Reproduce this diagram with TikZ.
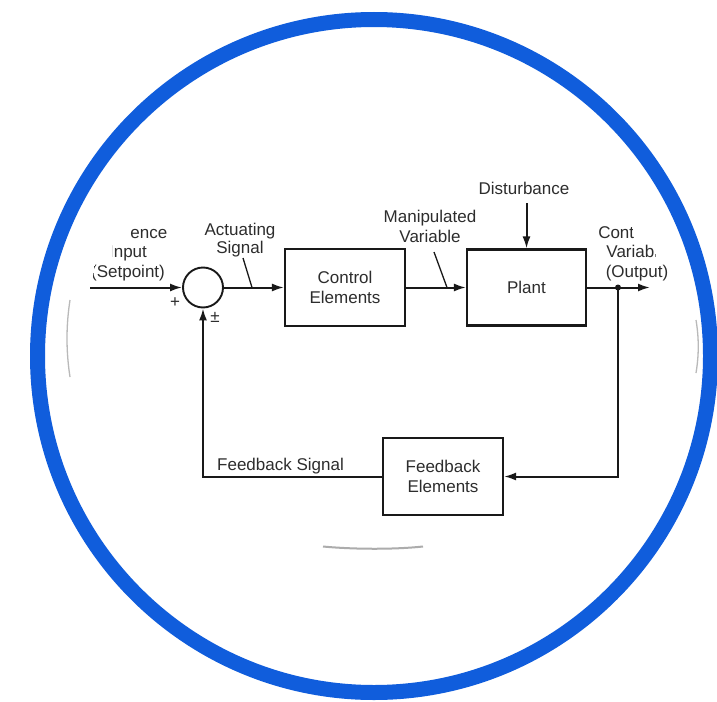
\documentclass[tikz,border=0pt]{standalone}
\usepackage{fontspec}
\setmainfont{Liberation Sans}
\usetikzlibrary{arrows.meta}
\definecolor{ringblue}{RGB}{16,93,220}
\definecolor{ink}{RGB}{25,25,25}
\definecolor{txt}{RGB}{45,45,45}
\begin{document}
\begin{tikzpicture}[x=1pt,y=-1pt,
  lbl/.style={font=\fontsize{17}{19.5}\selectfont, text=txt, align=center, inner sep=0pt},
  blk/.style={draw=ink, line width=2.1pt, minimum width=120pt, minimum height=77pt, inner sep=0pt,
              font=\fontsize{17}{20.5}\selectfont, text=txt, align=center},
  sumnode/.style={draw=ink, line width=1.9pt, circle, minimum size=40pt, inner sep=0pt},
  arr/.style={draw=ink, line width=2pt, -{Latex[length=12pt,width=8pt]}},
  wire/.style={draw=ink, line width=1.3pt},
  ghost/.style={gray!55, line width=1.3pt}]
\useasboundingbox (0,0) rectangle (717,701);
\fill[white] (0,0) rectangle (717,701);
% outer ring
\draw[ringblue, line width=15pt] (374,356) circle[radius=336.5];
% faint remnants of the cropped picture
\draw[ghost] (70,300) .. controls (66,326) and (66,351) .. (70,377);
\draw[ghost] (696,320) .. controls (699,338) and (699,355) .. (696,373);
\draw[gray!65, line width=2pt] (323,546.5) .. controls (355,549.5) and (395,549.5) .. (423,546.5);

% blocks
\node[sumnode] (sum) at (203,287.5) {};
\node[blk] (ctrl) at (345,287.5) {Control\\Elements};
\node[blk, minimum width=119pt, minimum height=76pt] (plant) at (526.5,287.5) {Plant};
\node[blk] (fb) at (443,476.5) {Feedback\\Elements};

% labels (anchor=base is the baseline of the last line)
\begin{scope}
  \clip (131,205) -- (130,241) -- (112.5,241) -- (111,260) -- (95,260) -- (91,290)
        -- (200,290) -- (200,205) -- cycle;
  \node[lbl, anchor=base] (ref) at (128,277) {Reference\\Input\\(Setpoint)};
\end{scope}
\begin{scope}
  \clip (560,205) -- (630,205) -- (634,241) -- (653,241) -- (656,260) -- (700,260)
        -- (700,290) -- (560,290) -- cycle;
  \node[lbl, anchor=base] (cv) at (637,277) {Controlled\\Variable\\(Output)};
\end{scope}
\node[lbl, font=\fontsize{17}{18}\selectfont, anchor=base] (act) at (240,253) {Actuating\\Signal};
\node[lbl, anchor=base] (mv) at (430,242) {Manipulated\\Variable};
\node[lbl, anchor=base] (dist) at (524,194) {Disturbance};
\node[lbl, anchor=base west] (fbs) at (217,470) {Feedback Signal};
\node[lbl] (plus) at (175,303) {+};
\node[lbl] (pm) at (215,317) {±};

% coordinates
\coordinate (in) at (90,287.5);
\coordinate (tap) at (618,287.5);
\coordinate (out) at (650,287.5);
\coordinate (dtop) at (526.5,203);
\coordinate (a1) at (243,258);
\coordinate (a2) at (252,287.5);
\coordinate (m1) at (434,252);
\coordinate (m2) at (447,287.5);

% connectors
\draw[arr] (in) -- (sum.west);
\draw[arr] (sum.east) -- (ctrl.west);
\draw[arr] (ctrl.east) -- (plant.west);
\draw[arr] (plant.east) -- (out);
\draw[arr] (dtop) -- (plant.north);
\draw[arr] (tap) |- (fb.east);
\draw[arr] (fb.west) -| (sum.south);
\fill[ink] (tap) circle[radius=3];
\draw[wire] (a1) -- (a2);
\draw[wire] (m1) -- (m2);
\end{tikzpicture}
\end{document}
